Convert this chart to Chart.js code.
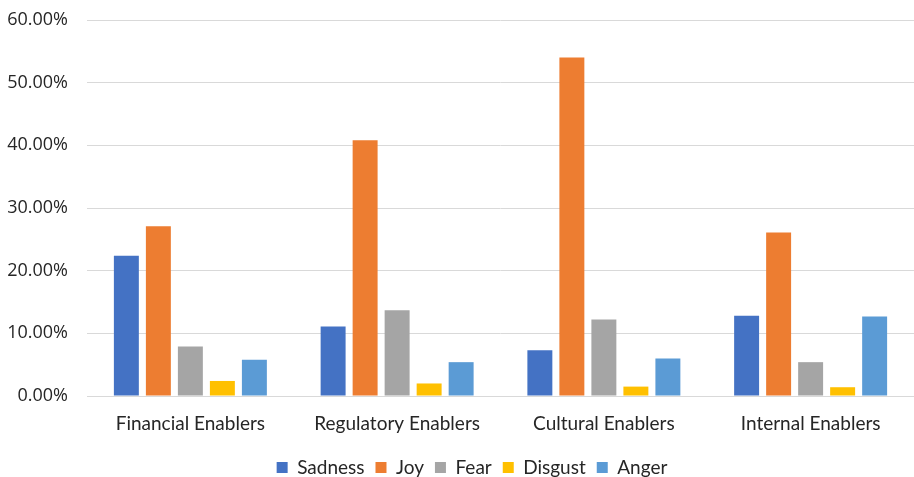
<!DOCTYPE html>
<html>
<head>
<meta charset="utf-8">
<script src="https://cdn.jsdelivr.net/npm/chart.js@4"></script>
<style>
html,body{margin:0;padding:0;background:#fff;}
#wrap{width:914px;height:477px;position:relative;}
</style>
</head>
<body>
<div id="wrap"><canvas id="c" width="914" height="477"></canvas></div>
<script>
const categories = ["Financial Enablers", "Regulatory Enablers", "Cultural Enablers", "Internal Enablers"];
const seriesNames = ["Sadness", "Joy", "Fear", "Disgust", "Anger"];
const sadness = [22.4, 11.1, 7.3, 12.8];
const joy     = [27.1, 40.8, 54.0, 26.1];
const fear    = [7.9, 13.7, 12.2, 5.4];
const disgust = [2.4, 2.0, 1.5, 1.4];
const anger   = [5.8, 5.4, 6.0, 12.7];
const colors  = ["#4472C4", "#ED7D31", "#A5A5A5", "#FFC000", "#5B9BD5"];
const yTicks  = [0, 10, 20, 30, 40, 50, 60];

const values = [sadness, joy, fear, disgust, anger];
const textColor = "#262626";

const legendShift = {
  id: "legendShift",
  afterLayout(chart) {
    if (chart.legend) { chart.legend.left += 30; }
  }
};

new Chart(document.getElementById("c"), {
  type: "bar",
  data: {
    labels: categories,
    datasets: seriesNames.map((n, i) => ({
      label: n,
      data: values[i],
      backgroundColor: colors[i],
      borderWidth: 0,
      barPercentage: 0.78,
      categoryPercentage: 0.774
    }))
  },
  plugins: [legendShift],
  options: {
    responsive: false,
    animation: false,
    devicePixelRatio: 1,
    layout: { padding: { left: 0, right: 0, top: 20, bottom: -10 } },
    plugins: {
      tooltip: { enabled: false },
      legend: {
        position: "bottom",
        labels: {
          boxWidth: 11, boxHeight: 11, padding: 11,
          color: textColor,
          font: { family: "Lato", size: 19 }
        }
      }
    },
    scales: {
      x: {
        afterFit: (s) => { s.height = 51; },
        grid: { display: false, drawTicks: false },
        border: { color: "#d9d9d9", width: 1 },
        ticks: { color: textColor, padding: 16, font: { family: "Lato", size: 19 } }
      },
      y: {
        min: 0, max: 60,
        afterFit: (s) => { s.width = 87; s.paddingTop = 0; s.paddingBottom = 0; },
        afterBuildTicks: (s) => { s.ticks = yTicks.map(v => ({ value: v })); },
        grid: { color: "#d9d9d9", lineWidth: 1, drawTicks: false },
        border: { display: false },
        ticks: {
          color: textColor, padding: 19,
          font: { family: "Open Sans", size: 18 },
          callback: (v) => v.toFixed(2) + "%"
        }
      }
    }
  }
});
</script>
</body>
</html>
